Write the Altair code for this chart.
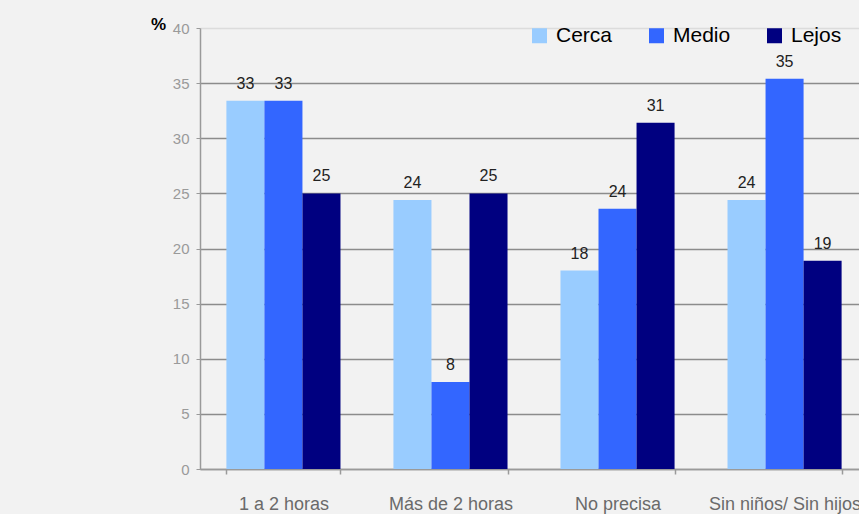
import altair as alt
import pandas as pd

# Categories and series shown in the grouped bar chart
categorias = ["1 a 2 horas", "Más de 2 horas", "No precisa", "Sin niños/ Sin hijos"]
series = ["Cerca", "Medio", "Lejos"]
colores = ["#99CCFF", "#3366FF", "#000080"]

# Percentages per category for each series
cerca = [33.4, 24.4, 18.0, 24.4]
medio = [33.4, 7.9, 23.6, 35.4]
lejos = [25.0, 25.0, 31.4, 18.9]

filas = []
for serie, valores in zip(series, [cerca, medio, lejos]):
    for cat, v in zip(categorias, valores):
        filas.append({"cat": cat, "serie": serie, "valor": v})
df = pd.DataFrame(filas)

FONT = "Liberation Sans"

base = alt.Chart(df).encode(
    x=alt.X(
        "cat:N",
        sort=categorias,
        scale=alt.Scale(range=[0, 668], paddingInner=0.317, paddingOuter=0.158),
        axis=alt.Axis(
            title=None,
            labelAngle=0,
            tickBand="extent",
            domainColor="#9a9a9a",
            domainWidth=1.5,
            tickColor="#9a9a9a",
            tickWidth=1.5,
            tickSize=5,
            labelPadding=21,
            labelFontSize=18,
            labelColor="#6a6a6a",
            labelFont=FONT,
            labelBaseline="top",
        ),
    ),
    xOffset=alt.XOffset(
        "serie:N", sort=series, scale=alt.Scale(paddingInner=0, paddingOuter=0)
    ),
)

bars = base.mark_bar().encode(
    y=alt.Y(
        "valor:Q",
        scale=alt.Scale(domain=[0, 40], nice=False),
        axis=alt.Axis(
            title="%",
            titleAngle=0,
            titleX=-42,
            titleY=-4,
            titleAlign="center",
            titleBaseline="middle",
            titleFontWeight="bold",
            titleFontSize=17,
            titleColor="#000000",
            titleFont=FONT,
            values=[0, 5, 10, 15, 20, 25, 30, 35, 40],
            grid=True,
            gridColor={"condition": {"test": "datum.value == 40", "value": "#dcdcdc"}, "value": "#8c8c8c"},
            gridWidth=1.3,
            domainColor="#9a9a9a",
            domainWidth=1.5,
            tickColor="#9a9a9a",
            tickSize=4,
            labelPadding=7,
            labelFontSize=15,
            labelColor="#9a9a9a",
            labelFont=FONT,
        ),
    ),
    color=alt.Color(
        "serie:N",
        sort=series,
        scale=alt.Scale(domain=series, range=colores),
        legend=alt.Legend(
            title=None,
            orient="none",
            legendX=329,
            legendY=-3,
            direction="horizontal",
            columns=3,
            columnPadding=33,
            symbolType="square",
            symbolSize=225,
            symbolStrokeWidth=0,
            symbolOpacity=1,
            labelFontSize=21,
            labelFont=FONT,
            labelColor="#000000",
            labelOffset=6,
            labelBaseline="middle",
            padding=0,
        ),
    ),
)

labels = base.mark_text(
    dy=-12, baseline="alphabetic", fontSize=16, font=FONT, color="#222222"
).encode(
    y="valor:Q",
    text=alt.Text("valor:Q", format=".0f"),
)

chart = (
    alt.layer(bars, labels)
    .properties(
        width=659,
        height=441,
        autosize=alt.AutoSizeParams(type="none"),
        padding={"left": 200, "top": 28, "right": 0, "bottom": 45},
        background="#f2f2f2",
    )
    .configure_view(stroke=None)
)

chart.save("out.html", embed_options={"renderer": "svg", "actions": False})
